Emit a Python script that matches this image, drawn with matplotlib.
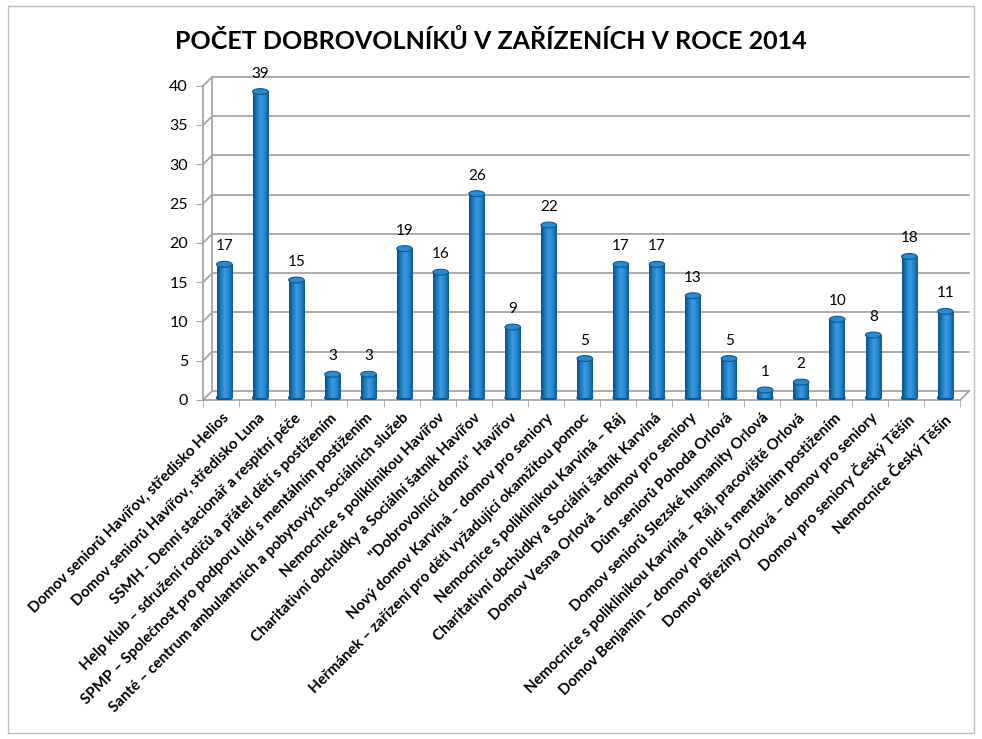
import numpy as np
import matplotlib
matplotlib.use("Agg")
import matplotlib.pyplot as plt
from matplotlib.patches import Ellipse
from matplotlib.colors import LinearSegmentedColormap
import matplotlib.transforms as mtransforms

plt.rcParams['font.family'] = ['Lato', 'DejaVu Sans']

title = "POČET DOBROVOLNÍKŮ V ZAŘÍZENÍCH V ROCE 2014"
facilities = [
    "Domov seniorů Havířov, středisko Helios",
    "Domov seniorů Havířov, středisko Luna",
    "SSMH - Denní stacionář a respitní péče",
    "Help klub – sdružení rodičů a přátel dětí s postižením",
    "SPMP – Společnost pro podporu lidí s mentálním postižením",
    "Santé – centrum ambulantních a pobytových sociálních služeb",
    "Nemocnice s poliklinikou Havířov",
    "Charitativní obchůdky a Sociální šatník Havířov",
    "\"Dobrovolníci domů\"  Havířov",
    "Nový domov Karviná – domov pro seniory",
    "Heřmánek – zařízení pro děti vyžadující okamžitou pomoc",
    "Nemocnice s poliklinikou Karviná – Ráj",
    "Charitativní obchůdky a Sociální šatník Karviná",
    "Domov Vesna Orlová – domov pro seniory",
    "Dům seniorů Pohoda Orlová",
    "Domov seniorů Slezské humanity Orlová",
    "Nemocnice s poliklinikou Karviná – Ráj, pracoviště Orlová",
    "Domov Benjamín – domov pro lidi s mentálním postižením",
    "Domov Březiny Orlová – domov pro seniory",
    "Domov pro seniory Český Těšín",
    "Nemocnice Český Těšín",
]
volunteers = [17, 39, 15, 3, 3, 19, 16, 26, 9, 22, 5, 17, 17, 13, 5, 1, 2, 10, 8, 18, 11]
y_ticks = [0, 5, 10, 15, 20, 25, 30, 35, 40]

fig = plt.figure(figsize=(9.82, 7.39), dpi=100)
# thin frame round the whole chart
fig.patches.append(plt.Rectangle((0.008, 0.008), 0.984, 0.984, transform=fig.transFigure,
                                 fill=False, ec="#bfbfbf", lw=1.0))

ax = fig.add_axes([0.207, 0.459, 0.771, 0.425])
n = len(volunteers)
ax.set_xlim(-0.5, n - 0.5)
ax.set_ylim(0, 40)
for s in ax.spines.values():
    s.set_visible(False)
ax.patch.set_alpha(0)

grid_c = "#a6a6a6"
# 3D depth offset of the back wall (pixels)
dx, dy = 9, 9
back = ax.transData + mtransforms.ScaledTranslation(dx / 100, dy / 100, fig.dpi_scale_trans)
x0, x1 = -0.5, n - 0.5
for t in y_ticks:
    ax.plot([x0, x1], [t, t], color=grid_c, lw=1.3, transform=back, clip_on=False, zorder=1)
    # short diagonal from the front axis to the back wall
    p0 = ax.transData.transform((x0, t))
    ax.plot([p0[0], p0[0] + dx], [p0[1], p0[1] + dy], color=grid_c, lw=1.3,
            transform=None, clip_on=False, zorder=1)
ax.plot([x0, x0], [0, 40], color=grid_c, lw=1.3, transform=back, clip_on=False, zorder=1)
# floor front edge, right side
ax.plot([x0, x1], [0, 0], color=grid_c, lw=1.3, clip_on=False, zorder=1)
ax.plot([x0, x0], [0, 40], color=grid_c, lw=1.3, clip_on=False, zorder=1)
pr = ax.transData.transform((x1, 0))
ax.plot([pr[0], pr[0] + dx], [pr[1], pr[1] + dy], color=grid_c, lw=1.3,
        transform=None, clip_on=False, zorder=1)

# cylinders with a horizontal shading gradient
cmap = LinearSegmentedColormap.from_list("cyl", ["#0b4f80", "#1b7cc0", "#3b9be0", "#2186cc", "#0d5a92"])
grad = np.linspace(0, 1, 64)[None, :]
w = 0.43
shift = mtransforms.ScaledTranslation(3 / 100, 2 / 100, fig.dpi_scale_trans)
bar_tr = ax.transData + shift
cap_h = 0.75
for i, v in enumerate(volunteers):
    ax.imshow(grad, cmap=cmap, extent=[i - w / 2, i + w / 2, 0, v], aspect="auto",
              transform=bar_tr, zorder=3, interpolation="bilinear")
    ax.add_patch(Ellipse((i, 0), w, cap_h, transform=bar_tr, color="#0d5a92", zorder=2.9))
    ax.add_patch(Ellipse((i, v), w, cap_h, transform=bar_tr, fc="#2a8ad0", ec="#0d5a92",
                         lw=0.8, zorder=4))
    ax.text(i, v + 1.4, str(v), ha="center", va="bottom", fontsize=11,
            transform=bar_tr, zorder=5)

ax.set_xlim(-0.5, n - 0.5)
ax.set_ylim(0, 40)

ax.set_yticks(y_ticks)
ax.set_yticklabels([str(t) for t in y_ticks], fontsize=11.5)
ax.tick_params(axis="y", length=5, color=grid_c, pad=6)

ax.set_xticks(np.arange(n + 1) - 0.5, minor=True)
ax.set_xticks(np.arange(n))
ax.set_xticklabels(facilities, rotation=45, ha="right", va="top",
                   rotation_mode="anchor", fontsize=10.9, fontweight="bold")
ax.tick_params(axis="x", which="major", length=0, pad=8)
ax.tick_params(axis="x", which="minor", length=5, color=grid_c)

fig.text(0.5, 0.945, title, ha="center", va="center", fontsize=18, fontweight="bold")

fig.savefig("out.png", dpi=100)
